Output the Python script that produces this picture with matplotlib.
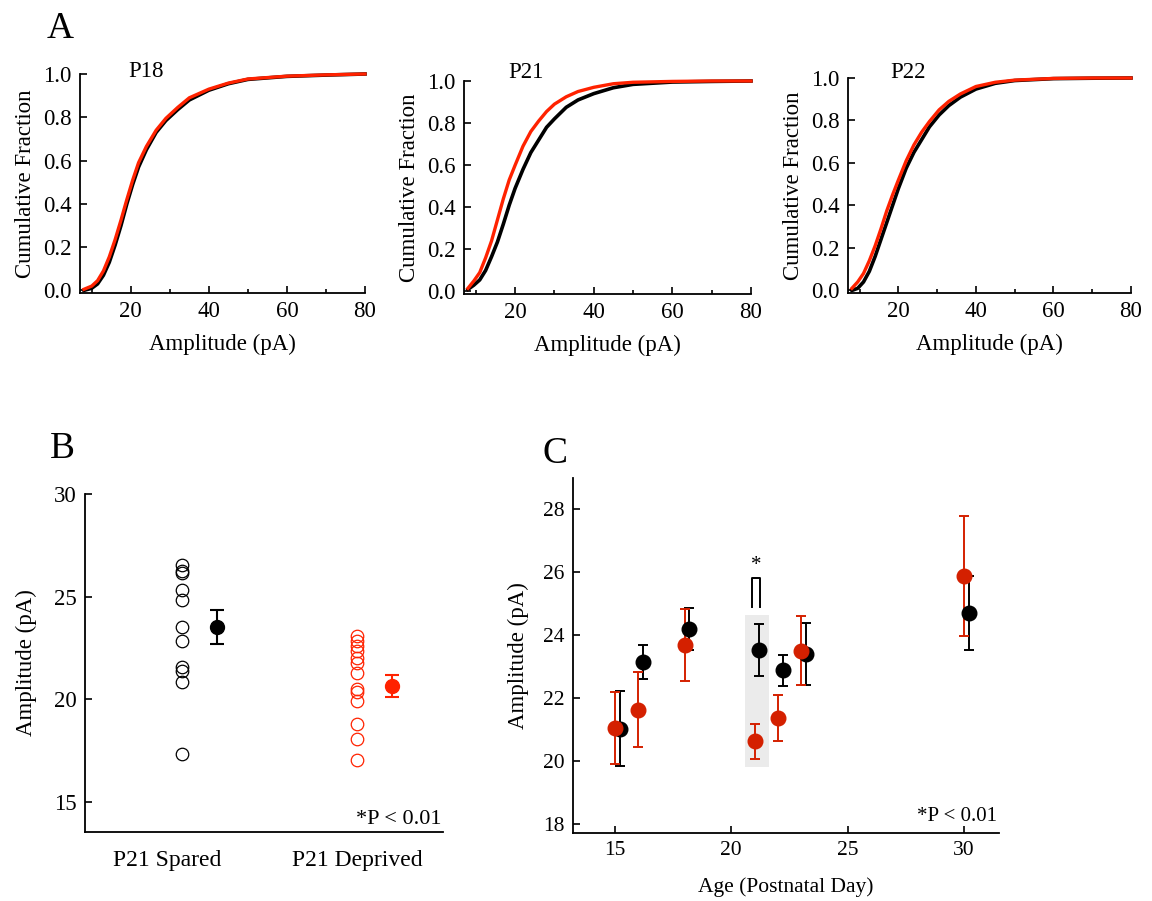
import matplotlib
matplotlib.use('Agg')
from matplotlib import pyplot as plt
from matplotlib.patches import Rectangle
from matplotlib.ticker import MultipleLocator

plt.rcParams['font.family'] = ['Liberation Serif', 'DejaVu Serif']

RED = '#ff2200'
RED_C = '#d42000'

# ---- panel A: cumulative amplitude distributions
p18_amp_black = [8, 10, 11.5, 13, 14.5, 16, 17.5, 19, 20.5, 22, 24, 26.5, 29, 32, 35, 40, 45, 50, 60, 70, 80]
p18_cdf_black = [0.0, 0.01, 0.03, 0.07, 0.13, 0.21, 0.30, 0.40, 0.49, 0.57, 0.65, 0.73, 0.785, 0.835, 0.88, 0.925, 0.955, 0.975, 0.989, 0.995, 1.0]
p18_amp_red = [8, 10, 11.5, 13, 14.5, 16, 17.5, 19, 20.5, 22, 24, 26.5, 29, 32, 35, 40, 45, 50, 60, 70, 80]
p18_cdf_red = [0.005, 0.02, 0.045, 0.09, 0.155, 0.235, 0.325, 0.42, 0.51, 0.59, 0.665, 0.74, 0.795, 0.845, 0.89, 0.93, 0.958, 0.977, 0.99, 0.996, 1.0]

p21_amp_black = [8, 9.5, 11, 12.5, 14, 15.5, 17, 18.5, 20, 22, 24, 26, 28, 30, 33, 36, 40, 45, 50, 60, 70, 80]
p21_cdf_black = [0.01, 0.03, 0.055, 0.10, 0.165, 0.235, 0.32, 0.41, 0.49, 0.58, 0.66, 0.72, 0.78, 0.82, 0.875, 0.91, 0.94, 0.968, 0.984, 0.995, 0.998, 1.0]
p21_amp_red = [8, 9.5, 11, 12.5, 14, 15.5, 17, 18.5, 20, 22, 24, 26, 28, 30, 33, 36, 40, 45, 50, 60, 70, 80]
p21_cdf_red = [0.015, 0.05, 0.09, 0.16, 0.24, 0.34, 0.44, 0.53, 0.60, 0.69, 0.76, 0.81, 0.855, 0.89, 0.925, 0.95, 0.97, 0.987, 0.994, 0.998, 1.0, 1.0]

p22_amp_black = [8, 9.5, 11, 12.5, 14, 15.5, 17, 18.5, 20, 22, 24, 26, 28, 30.5, 33, 36, 40, 45, 50, 60, 70, 80]
p22_cdf_black = [0.0, 0.01, 0.04, 0.09, 0.16, 0.24, 0.32, 0.40, 0.48, 0.575, 0.65, 0.71, 0.77, 0.826, 0.87, 0.91, 0.948, 0.975, 0.988, 0.997, 0.999, 1.0]
p22_amp_red = [8, 9.5, 11, 12.5, 14, 15.5, 17, 18.5, 20, 22, 24, 26, 28, 30.5, 33, 36, 40, 45, 50, 60, 70, 80]
p22_cdf_red = [0.01, 0.04, 0.08, 0.14, 0.21, 0.29, 0.375, 0.45, 0.52, 0.61, 0.685, 0.745, 0.795, 0.85, 0.89, 0.925, 0.96, 0.98, 0.99, 0.998, 1.0, 1.0]

# ---- panel B: per-cell mean amplitudes at P21
spared_cells = [26.55, 26.23, 26.15, 25.34, 24.85, 23.53, 22.86, 21.59, 21.37, 20.84, 17.36]
spared_mean, spared_err = 23.53, 0.81
deprived_cells = [23.11, 22.83, 22.59, 22.34, 22.02, 21.78, 21.30, 20.49, 20.35, 19.92, 18.83, 18.09, 17.05]
deprived_mean, deprived_err = 20.65, 0.53
group_labels = ['P21 Spared', 'P21 Deprived']

# ---- panel C: developmental time course
age_deprived = [15, 16, 18, 21, 22, 23, 30]
amp_deprived = [21.05, 21.63, 23.68, 20.62, 21.37, 23.50, 25.88]
err_deprived = [1.14, 1.18, 1.14, 0.55, 0.73, 1.10, 1.90]
age_spared = [15.2, 16.2, 18.2, 21.2, 22.2, 23.2, 30.2]
amp_spared = [21.02, 23.15, 24.19, 23.52, 22.88, 23.39, 24.70]
err_spared = [1.19, 0.55, 0.68, 0.82, 0.49, 0.99, 1.17]
highlight_x = (20.61, 21.62)
highlight_y = (19.79, 24.63)

W, H = 1152, 901
fig = plt.figure(figsize=(W / 100, H / 100), dpi=100)


def add_ax(left, right, top, bottom):
    return fig.add_axes([left / W, 1 - bottom / H, (right - left) / W, (bottom - top) / H])


def style(ax, size):
    for s in ['top', 'right']:
        ax.spines[s].set_visible(False)
    for s in ['left', 'bottom']:
        ax.spines[s].set_linewidth(1.3)
    ax.tick_params(direction='in', labelsize=size, width=1.2, length=5, pad=6)
    ax.tick_params(which='minor', direction='in', width=1.2, length=3)


# panel A
a_boxes = [(80, 365, 74, 293), (464, 751, 81, 294), (848, 1131, 78, 293)]
a_data = [(p18_amp_black, p18_cdf_black, p18_amp_red, p18_cdf_red, 'P18', 0.168, 1.012),
          (p21_amp_black, p21_cdf_black, p21_amp_red, p21_cdf_red, 'P21', 0.153, 1.04),
          (p22_amp_black, p22_cdf_black, p22_amp_red, p22_cdf_red, 'P22', 0.148, 1.026)]
for box, (xb, yb, xr, yr, name, tx, ty) in zip(a_boxes, a_data):
    ax = add_ax(*box)
    style(ax, 16.5)
    ax.plot(xb, yb, color='black', lw=2.6, clip_on=False)
    ax.plot(xr, yr, color=RED, lw=2.4, clip_on=False)
    ax.set_xlim(7, 80)
    ax.set_ylim(-0.012, 1.0)
    ax.set_xticks([20, 40, 60, 80])
    ax.xaxis.set_minor_locator(MultipleLocator(10))
    ax.set_yticks([0, 0.2, 0.4, 0.6, 0.8, 1.0])
    ax.set_yticklabels(['0.0', '0.2', '0.4', '0.6', '0.8', '1.0'])
    ax.set_xlabel('Amplitude (pA)', fontsize=16.5, labelpad=8)
    ax.set_ylabel('Cumulative Fraction', fontsize=16.5, labelpad=5)
    ax.text(tx, ty, name, transform=ax.transAxes, fontsize=16.5, va='center', ha='left')

fig.text(47 / W, 1 - 38 / H, 'A', fontsize=27)

# panel B
axb = add_ax(85, 443, 494, 832)
style(axb, 16.5)
axb.plot([1] * len(spared_cells), spared_cells, 'o', mfc='none', mec='black', ms=9, mew=0.9)
axb.plot([2] * len(deprived_cells), deprived_cells, 'o', mfc='none', mec=RED, ms=9, mew=0.9)
axb.errorbar([1.2], [spared_mean], yerr=[spared_err], fmt='o', color='black', ms=10,
             capsize=5, elinewidth=1.5, capthick=1.5)
axb.errorbar([2.2], [deprived_mean], yerr=[deprived_err], fmt='o', color=RED, ms=10,
             capsize=5, elinewidth=1.5, capthick=1.5)
axb.set_xlim(0.446, 2.492)
axb.set_ylim(13.55, 30)
axb.set_yticks([15, 20, 25, 30])
axb.set_xticks([0.914, 2.0])
axb.set_xticklabels(group_labels, fontsize=17)
axb.tick_params(axis='x', length=0, pad=13)
axb.set_ylabel('Amplitude (pA)', fontsize=16.5, labelpad=12)
axb.text(0.996, 0.038, '*P < 0.01', transform=axb.transAxes, fontsize=16, ha='right', va='center')
fig.text(50 / W, 1 - 458 / H, 'B', fontsize=27)

# panel C
axc = add_ax(573, 999, 478, 833)
style(axc, 15.5)
axc.add_patch(Rectangle((highlight_x[0], highlight_y[0]), highlight_x[1] - highlight_x[0],
                        highlight_y[1] - highlight_y[0], color='#ebebeb', lw=0, zorder=0))
axc.errorbar(age_spared, amp_spared, yerr=err_spared, fmt='o', color='black', ms=10.5,
             capsize=3.5, elinewidth=1.4, capthick=1.4, ls='none')
axc.errorbar(age_deprived, amp_deprived, yerr=err_deprived, fmt='o', color=RED_C, ms=10.5,
             capsize=3.5, elinewidth=1.4, capthick=1.4, ls='none')
axc.plot([20.87, 20.87, 21.24, 21.24], [24.89, 25.82, 25.82, 24.89], color='black', lw=1.4)
axc.text(21.06, 26.2, '*', fontsize=15, ha='center', va='center')
axc.set_xlim(13.2, 31.5)
axc.set_ylim(17.7, 29)
axc.set_xticks([15, 20, 25, 30])
axc.set_yticks([18, 20, 22, 24, 26, 28])
axc.set_xlabel('Age (Postnatal Day)', fontsize=15.5, labelpad=12)
axc.set_ylabel('Amplitude (pA)', fontsize=16.5, labelpad=10)
axc.text(0.995, 0.046, '*P < 0.01', transform=axc.transAxes, fontsize=15, ha='right', va='center')
fig.text(543 / W, 1 - 463 / H, 'C', fontsize=27)

fig.savefig('out.png', dpi=100)
